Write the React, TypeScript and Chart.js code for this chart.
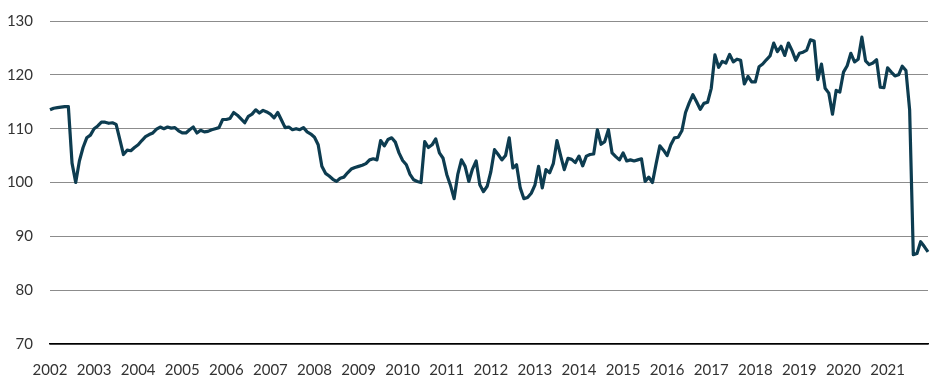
import React, { useEffect, useRef } from "react";
import { Chart, registerables } from "chart.js";

Chart.register(...registerables);

const years = [2002, 2003, 2004, 2005, 2006, 2007, 2008, 2009, 2010, 2011, 2012, 2013, 2014, 2015, 2016, 2017, 2018, 2019, 2020, 2021];

const v2002 = [113.5, 113.8, 113.9, 114.0, 114.1, 114.1, 103.6, 100.0, 104.0, 106.5, 108.3, 108.8];
const v2003 = [110.0, 110.5, 111.2, 111.2, 111.0, 111.1, 110.8, 108.0, 105.2, 106.0, 105.9, 106.5];
const v2004 = [107.0, 107.8, 108.5, 108.9, 109.2, 109.9, 110.3, 110.0, 110.3, 110.1, 110.2, 109.6];
const v2005 = [109.2, 109.2, 109.8, 110.3, 109.2, 109.7, 109.4, 109.5, 109.8, 110.0, 110.2, 111.7];
const v2006 = [111.7, 111.9, 113.0, 112.5, 111.8, 111.1, 112.3, 112.7, 113.5, 112.9, 113.4, 113.1];
const v2007 = [112.7, 112.0, 113.0, 111.6, 110.2, 110.3, 109.8, 110.0, 109.8, 110.2, 109.4, 109.0];
const v2008 = [108.4, 107.0, 103.0, 101.7, 101.2, 100.6, 100.2, 100.8, 101.0, 101.8, 102.5, 102.8];
const v2009 = [103.0, 103.2, 103.5, 104.2, 104.4, 104.2, 107.8, 106.8, 108.0, 108.3, 107.5, 105.5];
const v2010 = [104.1, 103.3, 101.5, 100.5, 100.2, 100.0, 107.6, 106.5, 107.0, 108.1, 105.5, 104.5];
const v2011 = [101.5, 99.5, 97.0, 101.5, 104.2, 103.0, 100.2, 102.5, 104.0, 99.6, 98.3, 99.3];
const v2012 = [102.0, 106.1, 105.2, 104.2, 105.0, 108.3, 102.7, 103.3, 99.0, 97.0, 97.2, 98.0];
const v2013 = [99.5, 103.0, 99.0, 102.4, 101.8, 103.5, 107.8, 105.0, 102.4, 104.5, 104.3, 103.7];
const v2014 = [104.9, 103.1, 104.9, 105.2, 105.3, 109.8, 107.1, 107.6, 109.8, 105.5, 104.8, 104.2];
const v2015 = [105.5, 104.0, 104.2, 104.0, 104.2, 104.4, 100.2, 101.0, 100.0, 103.5, 106.8, 106.0];
const v2016 = [105.0, 107.0, 108.3, 108.4, 109.6, 113.0, 114.8, 116.3, 115.0, 113.6, 114.7, 114.9];
const v2017 = [117.5, 123.7, 121.4, 122.5, 122.2, 123.8, 122.4, 122.9, 122.7, 118.3, 119.7, 118.7];
const v2018 = [118.7, 121.5, 122.0, 122.8, 123.5, 125.9, 124.3, 125.3, 123.6, 125.9, 124.5, 122.7];
const v2019 = [124.0, 124.2, 124.6, 126.5, 126.3, 119.1, 122.0, 117.5, 116.6, 112.7, 117.1, 116.8];
const v2020 = [120.5, 121.7, 124.0, 122.4, 122.9, 127.0, 122.6, 121.9, 122.2, 122.8, 117.7, 117.6];
const v2021 = [121.3, 120.5, 119.8, 120.0, 121.6, 120.8, 113.5, 86.6, 86.8, 89.0, 88.1, 87.1];

const yTicks = [70, 80, 90, 100, 110, 120, 130];

const values = [
  ...v2002, ...v2003, ...v2004, ...v2005, ...v2006, ...v2007, ...v2008, ...v2009, ...v2010, ...v2011,
  ...v2012, ...v2013, ...v2014, ...v2015, ...v2016, ...v2017, ...v2018, ...v2019, ...v2020, ...v2021,
];
const labels: string[] = [];
years.forEach((y) => {
  for (let m = 1; m <= 12; m++) labels.push(`${y}-${String(m).padStart(2, "0")}`);
});

export default function App() {
  const ref = useRef<HTMLCanvasElement | null>(null);
  useEffect(() => {
    if (!ref.current) return;
    const font = { family: "Lato, 'Open Sans', sans-serif", size: 15 };
    const chart = new Chart(ref.current, {
      type: "line",
      data: {
        labels,
        datasets: [
          {
            data: values,
            borderColor: "#0d3c50",
            borderWidth: 3.2,
            pointRadius: 0,
            tension: 0,
            fill: false,
            borderJoinStyle: "round",
          },
        ],
      },
      options: {
        animation: false,
        responsive: false,
        maintainAspectRatio: false,
        layout: { padding: { left: 0, right: 21, top: 21, bottom: 0 } },
        plugins: { legend: { display: false }, tooltip: { enabled: false } },
        scales: {
          x: {
            type: "category",
            offset: false,
            grid: { display: false, drawTicks: false },
            border: { display: true, color: "#000000", width: 1.5 },
            ticks: {
              autoSkip: false,
              maxRotation: 0,
              minRotation: 0,
              padding: 17,
              color: "#333333",
              font,
              callback: (_v: any, i: number) => (i % 12 === 0 ? labels[i].slice(0, 4) : null),
            },
            afterFit: (s: any) => {
              s.height = 46;
              s.paddingLeft = 0;
              s.paddingRight = 0;
            },
          },
          y: {
            min: 70,
            max: 130,
            afterBuildTicks: (s: any) => {
              s.ticks = yTicks.map((v) => ({ value: v }));
            },
            grid: { color: "#8c8c8c", lineWidth: 1, drawTicks: false },
            border: { display: false },
            ticks: { padding: 17, color: "#333333", font },
            afterFit: (s: any) => {
              s.width = 50;
              s.paddingTop = 0;
              s.paddingBottom = 0;
            },
          },
        },
      },
    });
    return () => chart.destroy();
  }, []);
  return (
    <div style={{ position: "fixed", left: 0, top: 0, width: 949, height: 390, background: "#fff" }}>
      <canvas ref={ref} width={949} height={390} style={{ width: 949, height: 390 }} />
    </div>
  );
}
